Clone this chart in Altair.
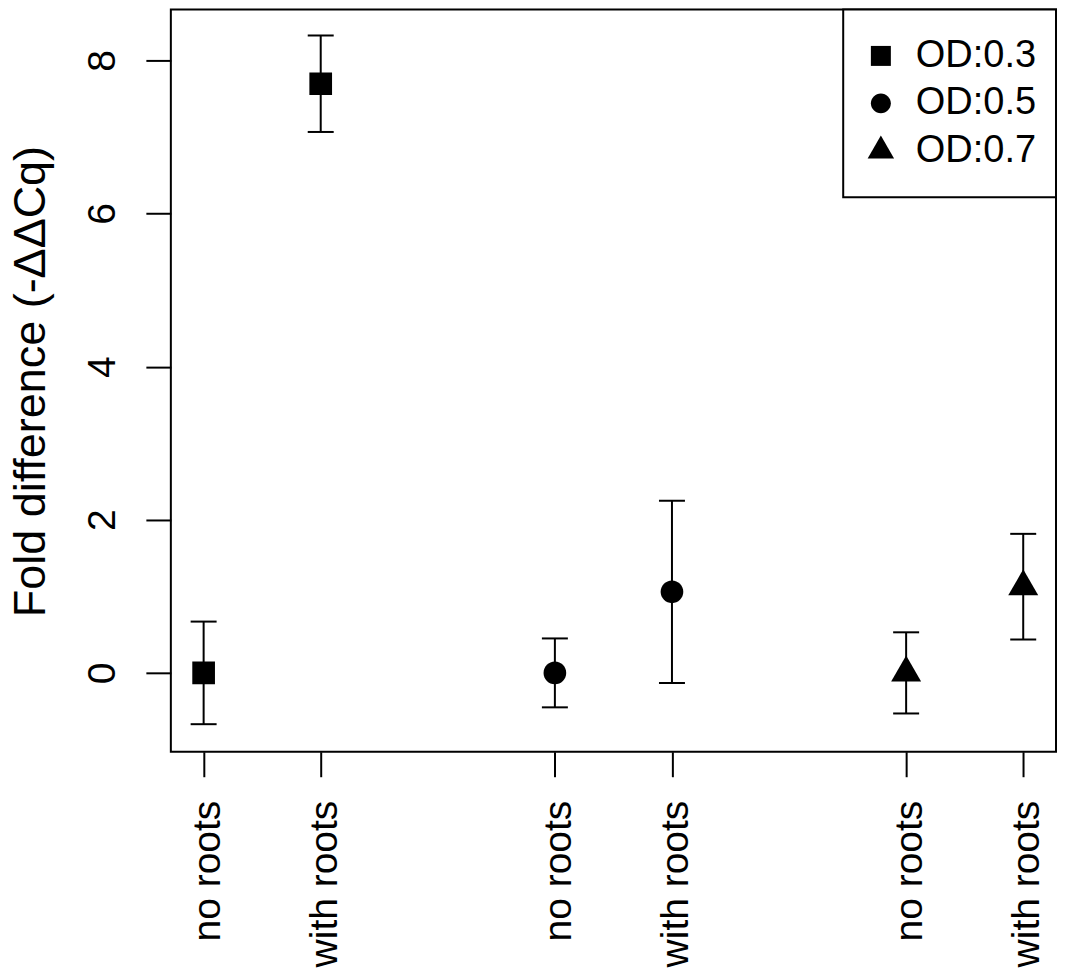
import altair as alt
import pandas as pd

# ---- data ----
groups = ["OD:0.3", "OD:0.3", "OD:0.5", "OD:0.5", "OD:0.7", "OD:0.7"]
treatments = ["no roots", "with roots", "no roots", "with roots", "no roots", "with roots"]
positions = [1, 2, 4, 5, 7, 8]
means = [0.0, 7.695, 0.0, 1.059, 0.0, 1.126]
errors = [0.67, 0.63, 0.45, 1.19, 0.53, 0.69]
y_ticks = [0, 2, 4, 6, 8]
legend_labels = ["OD:0.3", "OD:0.5", "OD:0.7"]
y_title = "Fold difference (-\u0394\u0394Cq)"

df = pd.DataFrame({
    "group": groups,
    "treatment": treatments,
    "pos": positions,
    "mean": means,
    "err": errors,
})
df["lo"] = df["mean"] - df["err"]
df["hi"] = df["mean"] + df["err"]

FONT = "Liberation Sans"
W, H = 886, 743

x_scale = alt.Scale(domain=[0.72, 8.28], nice=False, zero=False)
y_scale = alt.Scale(domain=[-1.03, 8.665], nice=False, zero=False)

label_expr = ""
for p, t in zip(positions, treatments):
    label_expr += f"datum.value == {p} ? '{t}' : "
label_expr += "''"

x_axis = alt.Axis(
    values=positions, labelExpr=label_expr, title=None, domain=False, grid=False,
    ticks=True, tickSize=25, tickWidth=2, tickColor="black",
    labelAngle=270, labelAlign="right", labelBaseline="alphabetic",
    labelOffset=15.6, labelPadding=23.5, labelFont=FONT, labelFontSize=39,
    labelColor="black", labelOverlap=False, labelBound=False, labelFlush=False,
    labelLimit=1000,
)
y_axis = alt.Axis(
    values=y_ticks, format="d", title=y_title, domain=False, grid=False,
    ticks=True, tickSize=25, tickWidth=2, tickColor="black",
    labelAngle=270, labelAlign="center", labelBaseline="alphabetic",
    labelPadding=31, labelFont=FONT, labelFontSize=39, labelColor="black",
    labelOverlap=False, labelBound=False, labelFlush=False,
    titleFont=FONT, titleFontSize=45, titleFontWeight="normal", titleColor="black",
    titleAngle=270, titleAlign="center", titleBaseline="alphabetic",
    titleX=-126.5, titleY=372, titleLimit=2000,
)

# symbol outlines (unit space); the trailing move-tos only widen the
# legend row height, they draw nothing
pad_pts = "M0,-2.7M0,2.7"
sq_path = "M-1,-1L1,-1L1,1L-1,1Z" + pad_pts
circ_path = "M1,0A1,1 0 1,1 -1,0A1,1 0 1,1 1,0Z" + pad_pts
tri_path = "M0,-1.5265L1.3219,0.7632L-1.3219,0.7632Z" + pad_pts
shape_scale = alt.Scale(domain=legend_labels, range=[sq_path, circ_path, tri_path])


def make_legend(mode):
    kw = dict(
        title="\u00a0", titleFontSize=1, titlePadding=7,
        orient="top-right", offset=0, padding=19.5,
        strokeColor="black", fillColor="white",
        labelFont=FONT, labelFontSize=38, labelColor="black", labelOffset=16,
        rowPadding=-6.5, symbolSize=400, symbolFillColor="black",
        symbolStrokeWidth=0, symbolOpacity=1, symbolOffset=-0.8,
    )
    if mode == 0:
        kw["strokeWidth"] = 2
    return alt.Legend(**kw)


def build(mode):
    base = alt.Chart(df)
    x = alt.X("pos:Q", scale=x_scale, axis=x_axis)
    rules = base.mark_rule(color="black", strokeWidth=2).encode(
        x=x, y=alt.Y("lo:Q", scale=y_scale, axis=y_axis), y2="hi:Q"
    )
    caps = base.transform_fold(["lo", "hi"], as_=["end", "val"]).mark_tick(
        orient="horizontal", size=26, thickness=2, color="black", opacity=1
    ).encode(x=x, y=alt.Y("val:Q", scale=y_scale))
    points = base.mark_point(
        filled=True, opacity=1, color="black", strokeWidth=0, size=515
    ).encode(
        x=x,
        y=alt.Y("mean:Q", scale=y_scale),
        shape=alt.Shape("group:N", scale=shape_scale, legend=make_legend(mode)),
    )
    ch = alt.layer(rules, caps, points).properties(
        width=W, height=H,
        autosize=alt.AutoSizeParams(type="none"),
        padding={"left": 163, "top": 1, "right": 2, "bottom": 220},
        background="white",
    ).configure_view(stroke="black", strokeWidth=2)
    if mode == 1:
        ch = ch.configure_legend(strokeWidth=2)
    return ch


chart = None
for mode in (0, 1, 2):
    try:
        c = build(mode)
        c.to_dict()
        chart = c
        break
    except Exception:
        continue

chart.save("out.html", embed_options={"renderer": "svg", "actions": False})
